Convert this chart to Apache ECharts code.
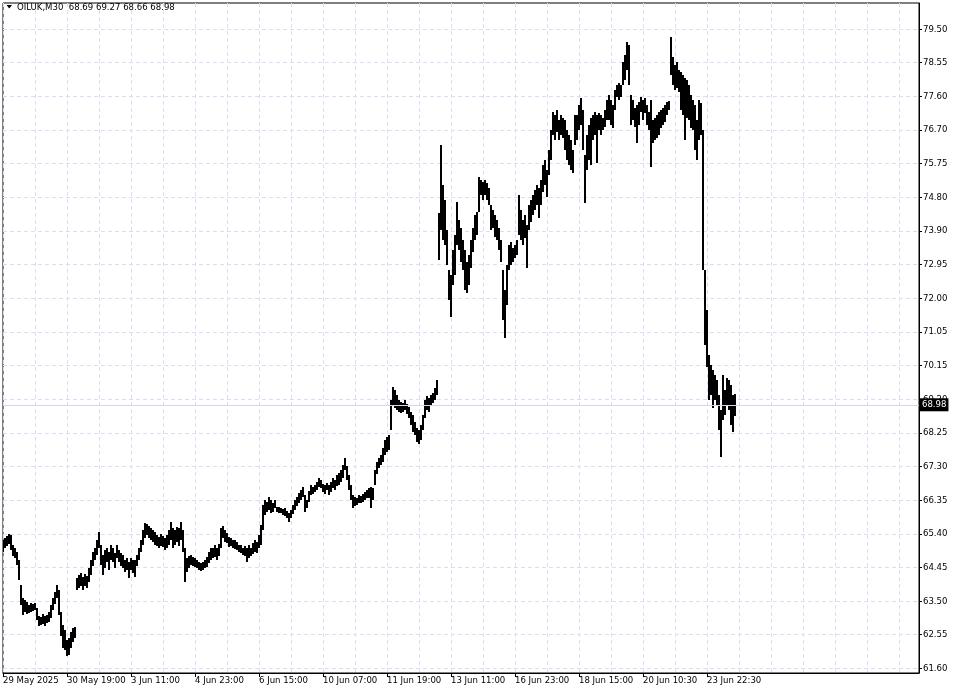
<!DOCTYPE html>
<html><head><meta charset="utf-8">
<script src="https://cdn.jsdelivr.net/npm/echarts@6/dist/echarts.min.js"></script>
<style>html,body{margin:0;padding:0;background:#fff}#c{width:960px;height:693px}</style>
</head><body><div id="c"></div>
<script>
const symbolName = 'OILUK,M30';
const lastBar = [68.69, 69.27, 68.66, 68.98]; // open high low close
const timeLabels = ['29 May 2025','30 May 19:00','3 Jun 11:00','4 Jun 23:00','6 Jun 15:00','10 Jun 07:00','11 Jun 19:00','13 Jun 11:00','16 Jun 23:00','18 Jun 15:00','20 Jun 10:30','23 Jun 22:30'];
const yLabels = ['61.60','62.55','63.50','64.45','65.40','66.35','67.30','68.25','69.20','70.15','71.05','72.00','72.95','73.90','74.80','75.75','76.70','77.60','78.55','79.50'];
const highs = [
65.19,65.25,65.30,65.36,65.33,65.05,64.97,64.86,64.63,63.93,
63.57,63.51,63.46,63.37,63.43,63.40,63.43,63.29,63.06,63.04,
63.12,63.06,63.09,63.18,63.37,63.57,63.74,63.93,63.79,63.18,
62.81,62.67,62.39,62.45,62.62,62.73,62.76,64.13,64.21,64.27,
64.16,64.24,64.18,64.41,64.63,64.86,64.97,65.19,65.41,65.05,
64.77,64.91,64.97,64.86,65.05,64.97,64.83,65.05,64.91,64.83,
64.77,64.63,64.69,64.57,64.69,64.63,64.63,64.77,64.97,65.19,
65.47,65.67,65.64,65.58,65.53,65.47,65.41,65.33,65.27,65.36,
65.30,65.25,65.33,65.47,65.70,65.53,65.47,65.55,65.53,65.70,
65.47,64.97,64.69,64.74,64.77,64.72,64.69,64.63,64.57,64.55,
64.57,64.63,64.72,64.86,64.97,64.97,65.05,64.97,65.08,65.53,
65.58,65.47,65.39,65.27,65.25,65.19,65.19,65.14,65.05,65.05,
64.97,65.02,64.97,65.05,64.97,65.11,65.19,65.14,65.33,65.61,
66.17,66.31,66.25,66.39,66.31,66.23,66.31,66.11,66.11,66.09,
66.06,66.09,66.00,65.95,66.03,66.17,66.31,66.39,66.51,66.59,
66.67,66.45,66.31,66.56,66.73,66.67,66.73,66.81,66.93,66.87,
66.76,66.73,66.79,66.73,66.81,66.93,66.87,67.01,67.07,67.15,
67.29,67.49,67.27,67.01,66.73,66.45,66.39,66.37,66.45,66.42,
66.48,66.53,66.59,66.65,66.67,66.65,67.15,67.37,67.49,67.57,
67.77,67.99,68.08,68.13,69.11,69.47,69.39,69.25,69.11,69.06,
69.03,69.11,69.00,68.92,68.78,68.69,68.50,68.33,68.27,68.41,
68.69,69.11,69.22,69.17,69.25,69.31,69.45,69.67,74.35,76.25,
75.13,74.71,73.87,72.75,72.61,73.31,73.73,74.65,74.15,73.93,
73.59,73.31,72.97,73.17,73.59,73.93,74.29,74.37,75.36,75.27,
75.22,75.27,75.19,75.05,74.57,74.43,74.29,74.15,73.93,73.59,
72.75,72.19,72.89,73.45,73.53,73.37,73.45,73.59,74.85,74.43,
74.15,74.29,74.01,74.57,74.71,74.85,74.99,75.13,75.05,75.27,
75.69,75.83,75.55,76.11,76.67,77.17,77.09,77.23,76.95,77.09,
77.01,76.95,76.67,76.53,76.39,76.11,77.09,77.09,77.37,77.57,
77.23,75.97,76.53,76.81,77.01,77.09,77.17,77.09,77.15,77.09,
77.01,77.23,77.51,77.65,77.51,77.37,77.79,77.93,77.99,77.93,
78.57,78.77,79.13,79.05,77.65,77.51,77.29,77.37,77.45,77.59,
77.51,77.57,77.37,77.17,77.51,76.95,77.01,77.09,77.17,77.23,
77.29,77.37,77.45,77.48,79.27,78.71,78.49,78.57,78.35,78.29,
78.21,78.13,78.07,77.93,77.65,77.51,77.37,76.95,77.51,77.43,
76.67,72.75,71.63,70.37,70.09,69.95,69.81,69.67,69.25,68.83,
69.81,69.39,69.73,69.67,69.53,69.25,69.27
];
const lows = [
64.85,64.97,65.02,65.08,64.91,64.74,64.69,64.49,64.07,63.37,
63.09,63.17,63.12,63.15,63.17,63.20,63.23,62.95,62.78,62.81,
62.84,62.78,62.87,62.90,63.01,63.23,63.40,63.57,63.09,62.50,
62.17,62.11,61.94,61.97,62.17,62.33,62.45,63.79,63.85,63.90,
63.79,63.90,63.85,64.01,64.21,64.46,64.63,64.77,64.97,64.49,
64.21,64.41,64.57,64.35,64.63,64.57,64.41,64.69,64.57,64.46,
64.41,64.30,64.35,64.13,64.35,64.27,64.16,64.46,64.63,64.86,
65.05,65.25,65.33,65.25,65.19,65.14,65.05,65.02,64.97,65.02,
65.00,64.91,64.97,65.05,65.19,64.97,65.05,65.14,65.02,65.19,
64.86,64.01,64.30,64.41,64.49,64.46,64.44,64.41,64.35,64.32,
64.35,64.41,64.44,64.55,64.63,64.69,64.72,64.63,64.74,64.97,
65.25,65.14,65.11,65.00,65.02,64.97,64.94,64.91,64.86,64.83,
64.77,64.74,64.57,64.69,64.74,64.80,64.86,64.83,64.97,65.05,
65.47,65.89,65.97,66.03,65.95,65.97,66.09,65.97,65.95,65.95,
65.89,65.86,65.81,65.69,65.81,65.92,66.03,66.14,66.23,66.31,
66.39,65.97,66.09,66.25,66.45,66.48,66.53,66.59,66.67,66.65,
66.53,66.48,66.59,66.45,66.53,66.65,66.59,66.70,66.73,66.81,
66.93,67.15,66.87,66.59,66.31,66.09,66.14,66.17,66.23,66.23,
66.25,66.31,66.37,66.37,66.09,66.31,66.73,67.04,67.21,67.29,
67.38,67.57,67.66,67.71,68.27,68.97,68.89,68.83,68.78,68.75,
68.78,68.83,68.72,68.61,68.41,68.22,68.13,67.94,67.88,67.99,
68.27,68.61,68.83,68.78,68.97,69.03,69.11,69.25,73.03,73.87,
73.59,73.45,72.89,71.91,71.44,72.33,72.61,73.45,73.31,72.97,
72.75,72.19,72.11,72.33,72.81,73.25,73.59,73.73,74.37,74.85,
74.71,74.85,74.71,74.57,73.87,73.93,73.67,73.59,73.31,72.97,
71.35,70.85,71.77,72.75,72.89,72.97,73.09,73.17,73.73,73.59,
73.45,73.65,72.81,73.87,74.09,74.29,74.43,74.57,74.21,74.57,
74.93,75.13,74.79,75.41,75.83,76.53,76.39,76.61,76.39,76.53,
76.45,76.11,75.83,75.69,75.55,75.47,76.25,76.39,76.67,76.81,
76.11,74.63,75.55,75.83,75.69,76.39,76.53,75.75,76.67,76.53,
76.67,76.75,76.95,76.95,76.81,76.73,77.23,77.59,77.51,77.59,
77.93,78.07,78.35,77.93,76.81,76.95,76.75,76.31,76.81,77.17,
76.95,77.15,76.81,76.67,75.63,76.31,76.39,76.45,76.53,76.73,
76.81,76.89,77.09,77.23,78.21,77.93,77.79,77.85,77.73,77.23,
77.09,76.39,77.01,76.95,76.73,76.67,76.11,75.83,76.39,76.53,
72.75,70.65,70.04,69.11,69.25,68.89,69.11,68.97,68.27,67.51,
68.55,68.69,68.97,68.83,68.41,68.22,68.66
];

const FONT = "'DejaVu Sans Condensed','DejaVu Sans','Liberation Sans',sans-serif";
const FS = 9.5;
const GRIDC = '#dcdcf4';
const slotCount = 459;
const categories = Array.from({length: slotCount}, (_, i) => i);
const yLo = parseFloat(yLabels[0]);
const yHi = parseFloat(yLabels[yLabels.length - 1]);
const yStep = (yHi - yLo) / (yLabels.length - 1);
const yTicks = yLabels.map((_, k) => yLo + k * yStep);
const bars = highs.map((h, i) => [i, h, lows[i]]);
const labelAt = (i) => i % 32 === 0 && (i / 32) < timeLabels.length;

const chart = echarts.init(document.getElementById('c'), null, {renderer: 'canvas'});
chart.setOption({
  animation: false,
  backgroundColor: '#fff',
  title: {
    text: symbolName + '  ' + lastBar.map(v => v.toFixed(2)).join(' '),
    left: 17, top: 3, padding: 0,
    textStyle: {fontSize: FS, fontWeight: 'normal', color: '#000', fontFamily: FONT}
  },
  graphic: [{
    type: 'polygon', shape: {points: [[6.5, 5], [12, 5], [9.25, 8.5]]}, style: {fill: '#000'}
  }],
  grid: {left: 3, top: 3, width: 916, height: 670, outerBoundsMode: 'none', containLabel: false,
         show: true, borderColor: '#000', borderWidth: 1, backgroundColor: 'transparent'},
  xAxis: {
    type: 'category', data: categories, boundaryGap: false,
    axisLine: {show: true, lineStyle: {color: '#000', width: 1}},
    axisTick: {show: true, interval: (i) => labelAt(i), length: 4, lineStyle: {color: '#000'}},
    axisLabel: {show: true, interval: (i) => labelAt(i), formatter: (v, i) => timeLabels[i / 32] || '',
                align: 'left', margin: 3, color: '#000', fontSize: FS, fontFamily: FONT},
    splitLine: {show: true, interval: (i) => i % 16 === 0, lineStyle: {color: GRIDC, type: [4, 3], width: 1}}
  },
  yAxis: {
    type: 'value', position: 'right', min: 61.47, max: 80.23, scale: true,
    axisLine: {show: true, lineStyle: {color: '#000', width: 1}},
    axisTick: {show: true, customValues: yTicks, length: 3, lineStyle: {color: '#000'}},
    axisLabel: {show: true, customValues: yTicks, margin: 4, color: '#000', fontSize: FS, fontFamily: FONT,
                formatter: (v) => yLabels[Math.round((v - yLo) / yStep)] || ''},
    splitLine: {show: true, lineStyle: {color: GRIDC, type: [4, 3], width: 1}}
  },
  series: [{
    type: 'custom', data: bars, clip: true, encode: {x: 0, y: [1, 2]},
    renderItem: (params, api) => {
      const x = api.value(0);
      const p1 = api.coord([x, api.value(1)]);
      const p2 = api.coord([x, api.value(2)]);
      const left = Math.round(p1[0]) - 1;
      return {type: 'rect', shape: {x: left, y: Math.round(p1[1]), width: 2, height: Math.max(1, Math.round(p2[1]) - Math.round(p1[1]))},
              style: {fill: '#000'}};
    },
    markLine: {
      silent: true, symbol: 'none', animation: false,
      lineStyle: {color: '#d4d4f2', type: 'solid', width: 1},
      label: {show: true, position: 'end', distance: 1, formatter: () => lastBar[3].toFixed(2),
              backgroundColor: '#000', color: '#fff', padding: [2, 2, 1, 2], fontSize: FS, fontFamily: FONT},
      data: [{yAxis: lastBar[3]}]
    }
  }]
});
</script>
</body></html>
